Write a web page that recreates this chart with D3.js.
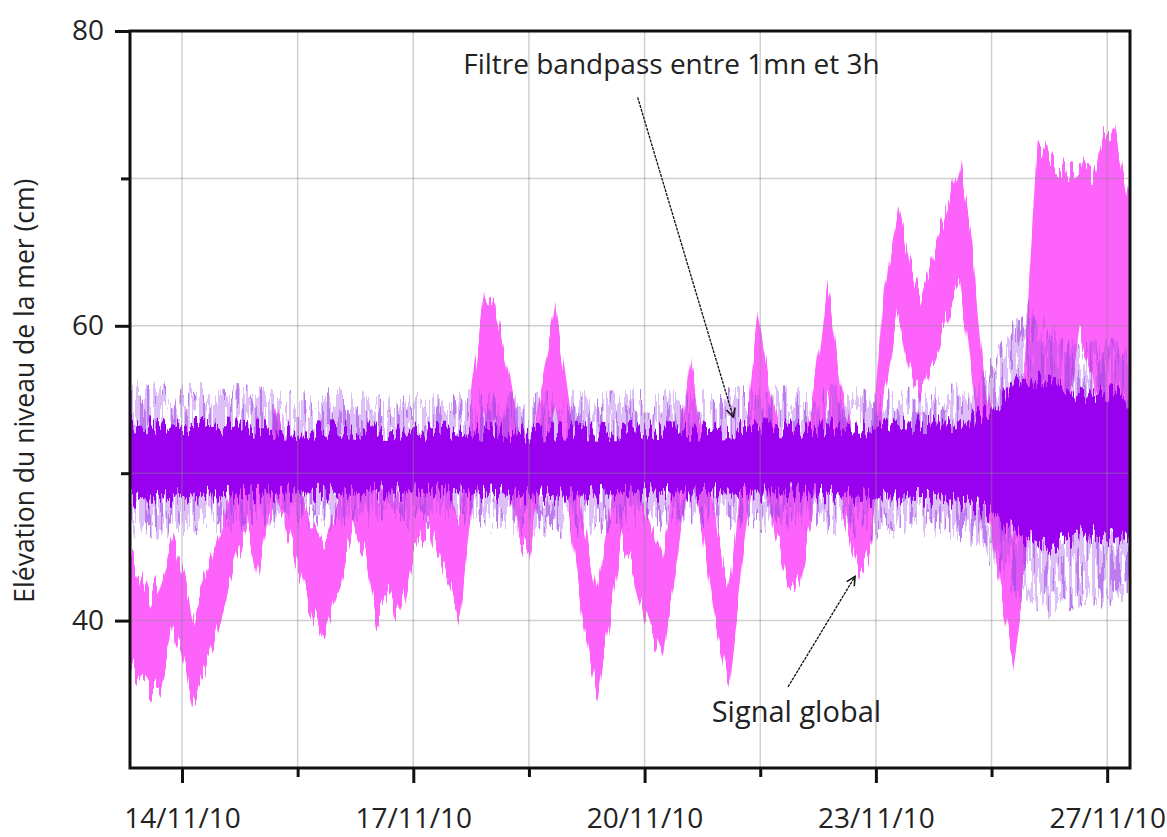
<!DOCTYPE html>
<html>
<head>
<meta charset="utf-8" />
<script src="https://cdn.jsdelivr.net/npm/d3@7/dist/d3.min.js"></script>
<style>
  body { margin: 0; background: #fff; }
  svg { display: block; font-family: "Open Sans", sans-serif; }
  .grid line { stroke: #8a8a8a; stroke-opacity: 0.4; stroke-width: 1.5px; }
  .axis path { display: none; }
  .axis line { stroke: #111; stroke-width: 3px; }
  .axis text { font-size: 28px; fill: #222; font-family: "Open Sans", sans-serif; }
  .note { font-size: 28px; fill: #222; }
</style>
</head>
<body>
<script>
"use strict";

// day of November 2010 (decimal)
var pinkDay = [13.33, 13.45, 13.58, 13.72, 13.87, 14.0, 14.14, 14.3, 14.5, 14.7, 14.85, 15.0, 15.1, 15.22, 15.4, 15.62, 15.85, 16.05, 16.22, 16.38, 16.52, 16.68, 16.82, 17.0, 17.2, 17.42, 17.6, 17.76, 17.93, 18.06, 18.22, 18.38, 18.5, 18.66, 18.84, 19.0, 19.2, 19.38, 19.55, 19.7, 19.85, 20.05, 20.23, 20.42, 20.6, 20.8, 20.95, 21.1, 21.3, 21.47, 21.65, 21.85, 22.0, 22.17, 22.37, 22.55, 22.8, 22.95, 23.1, 23.29, 23.45, 23.57, 23.75, 23.95, 24.09, 24.25, 24.4, 24.55, 24.78, 24.95, 25.1, 25.3, 25.5, 25.65, 25.8, 25.95, 26.1, 26.3];
var pinkLow = [37.0, 36.0, 35.2, 35.5, 39.5, 37.5, 34.3, 36.5, 40.5, 44.0, 46.5, 42.8, 46.5, 48.5, 45.5, 41.5, 38.5, 42.5, 46.5, 44.5, 40.0, 42.0, 40.0, 44.5, 46.5, 43.0, 40.3, 47.5, 54.0, 53.0, 49.5, 45.5, 44.3, 49.5, 54.0, 48.0, 40.0, 35.1, 40.0, 45.5, 43.5, 39.5, 37.2, 44.0, 51.0, 44.0, 39.0, 35.5, 45.0, 53.0, 47.0, 43.0, 42.3, 47.0, 55.0, 48.0, 43.0, 45.0, 55.0, 61.0, 57.0, 55.5, 58.0, 61.0, 63.0, 56.0, 49.5, 44.0, 37.3, 44.0, 50.0, 52.0, 54.0, 59.5, 57.0, 52.0, 50.0, 48.0];
var pinkHigh = [44.5, 43.0, 41.5, 43.0, 45.5, 43.5, 40.0, 43.0, 46.5, 50.0, 52.0, 50.0, 52.0, 54.0, 51.0, 47.5, 45.0, 48.5, 52.0, 50.5, 48.5, 49.5, 48.0, 51.0, 52.0, 49.5, 47.0, 55.5, 62.4, 61.5, 57.0, 52.0, 50.0, 56.0, 61.1, 55.0, 47.0, 42.0, 47.5, 51.5, 50.0, 47.0, 44.0, 51.0, 57.9, 51.0, 46.0, 42.0, 52.0, 60.6, 55.0, 50.0, 49.0, 54.5, 62.9, 56.0, 49.5, 51.5, 62.0, 68.1, 64.0, 62.0, 65.0, 68.5, 71.3, 65.5, 57.0, 52.0, 46.0, 60.0, 72.5, 71.0, 70.5, 71.0, 70.0, 73.0, 73.5, 68.0];

var bandDay = [13.33, 13.6, 14.0, 14.5, 15.0, 15.5, 16.0, 16.5, 17.0, 17.5, 18.0, 18.5, 19.0, 19.5, 20.0, 20.5, 21.0, 21.5, 22.0, 22.5, 23.0, 23.5, 24.0, 24.3, 24.55, 24.8, 25.0, 25.25, 25.5, 25.75, 26.0, 26.3];
var bandOuterLow = [46.5, 46.3, 46.6, 46.8, 47.0, 47.1, 46.8, 47.2, 47.0, 47.3, 46.8, 46.6, 46.4, 46.8, 47.0, 46.8, 47.1, 46.8, 47.0, 46.6, 46.3, 46.6, 46.3, 45.8, 44.0, 42.5, 41.5, 41.0, 41.5, 42.0, 41.5, 42.5];
var bandOuterHigh = [55.7, 55.5, 55.2, 55.4, 55.0, 54.7, 55.0, 54.8, 54.6, 54.9, 54.7, 54.6, 54.8, 54.7, 55.0, 54.7, 54.9, 55.2, 55.0, 55.2, 54.8, 55.0, 55.2, 55.8, 57.5, 60.0, 61.0, 59.5, 59.0, 58.0, 58.5, 57.5];
var bandCoreLow = [48.3, 48.2, 48.4, 48.5, 48.6, 48.7, 48.6, 48.8, 48.7, 48.8, 48.6, 48.5, 48.4, 48.6, 48.7, 48.6, 48.7, 48.6, 48.7, 48.5, 48.3, 48.4, 48.2, 47.8, 47.0, 46.0, 45.5, 45.0, 45.5, 46.0, 45.5, 46.0];
var bandCoreHigh = [53.4, 53.3, 53.2, 53.2, 53.0, 52.8, 53.0, 52.9, 52.8, 52.9, 52.8, 52.7, 52.9, 52.8, 53.0, 52.8, 52.9, 53.1, 53.0, 53.2, 53.0, 53.3, 53.4, 53.8, 54.6, 56.0, 56.5, 56.0, 55.5, 55.0, 55.5, 55.0];

var tickDays = [14, 15.5, 17, 18.5, 20, 21.5, 23, 24.5, 26];
var tickLabels = ["14/11/10", "", "17/11/10", "", "20/11/10", "", "23/11/10", "", "27/11/10"];
var yTicks = [40, 50, 60, 70, 80];
var yTickLabels = ["40", "", "60", "", "80"];
var yGrid = [40, 50, 60, 70];

function dayToDate(d) {
  return new Date(Date.UTC(2010, 10, 1) + (d - 1) * 864e5);
}

var width = 1167, height = 837;
var margin = { top: 31, right: 37, bottom: 69, left: 130 };

var x = d3.scaleUtc()
  .domain([dayToDate(13.3256), dayToDate(26.296)])
  .range([margin.left, width - margin.right]);
var y = d3.scaleLinear()
  .domain([30, 80])
  .range([height - margin.bottom, margin.top]);

var svg = d3.select("body").append("svg")
  .attr("width", width)
  .attr("height", height);

var defs = svg.append("defs");
defs.append("clipPath").attr("id", "plot")
  .append("rect")
  .attr("x", x.range()[0]).attr("y", y.range()[1])
  .attr("width", x.range()[1] - x.range()[0])
  .attr("height", y.range()[0] - y.range()[1]);

// ragged edge texture for the dense signals (look only, values stay as read)
function rough(id, seed, scale, mask) {
  var f = defs.append("filter").attr("id", id)
    .attr("x", "-1%").attr("y", "-40%").attr("width", "102%").attr("height", "180%")
    .attr("color-interpolation-filters", "sRGB");
  f.append("feTurbulence").attr("type", "fractalNoise")
    .attr("baseFrequency", "0.3 0.004").attr("numOctaves", 2)
    .attr("seed", seed).attr("result", "noise");
  f.append("feColorMatrix").attr("in", "noise").attr("type", "matrix")
    .attr("values", "0 0 0 0 0.5  0 3 0 0 -1  0 0 0 0 0  0 0 0 0 1")
    .attr("result", "shift");
  f.append("feDisplacementMap").attr("in", "SourceGraphic").attr("in2", "shift")
    .attr("scale", scale).attr("xChannelSelector", "R").attr("yChannelSelector", "G")
    .attr("result", "moved");
  if (mask) {
    f.append("feTurbulence").attr("type", "fractalNoise")
      .attr("baseFrequency", "0.3 0.02").attr("numOctaves", 2)
      .attr("seed", seed + 20).attr("result", "n2");
    f.append("feComponentTransfer").attr("in", "n2").attr("result", "m")
      .append("feFuncA").attr("type", "discrete").attr("tableValues", "0 0 0.5 1 1");
    f.append("feComposite").attr("in", "moved").attr("in2", "m").attr("operator", "in");
  }
}
rough("roughPink", 3, 22, false);
rough("roughOuter", 7, 26, true);
rough("roughCore", 11, 20, false);

var pink = pinkDay.map(function(d, i) {
  return { t: dayToDate(d), lo: pinkLow[i], hi: pinkHigh[i] };
});
var band = bandDay.map(function(d, i) {
  return { t: dayToDate(d), olo: bandOuterLow[i], ohi: bandOuterHigh[i], clo: bandCoreLow[i], chi: bandCoreHigh[i] };
});

var plot = svg.append("g").attr("clip-path", "url(#plot)");

plot.append("path")
  .datum(pink)
  .attr("fill", "#fd62fb")
  .attr("filter", "url(#roughPink)")
  .attr("d", d3.area()
    .x(function(d) { return x(d.t); })
    .y0(function(d) { return y(d.lo); })
    .y1(function(d) { return y(d.hi); }));

plot.append("path")
  .datum(band)
  .attr("fill", "#9f45e6")
  .attr("fill-opacity", 0.7)
  .attr("filter", "url(#roughOuter)")
  .attr("d", d3.area()
    .x(function(d) { return x(d.t); })
    .y0(function(d) { return y(d.olo); })
    .y1(function(d) { return y(d.ohi); }));

plot.append("path")
  .datum(band)
  .attr("fill", "#9a00f0")
  .attr("filter", "url(#roughCore)")
  .attr("d", d3.area()
    .x(function(d) { return x(d.t); })
    .y0(function(d) { return y(d.clo); })
    .y1(function(d) { return y(d.chi); }));

// grid
var grid = svg.append("g").attr("class", "grid");
grid.selectAll("line.v").data(tickDays).enter().append("line")
  .attr("class", "v")
  .attr("x1", function(d) { return x(dayToDate(d)); })
  .attr("x2", function(d) { return x(dayToDate(d)); })
  .attr("y1", y.range()[0]).attr("y2", y.range()[1]);
grid.selectAll("line.h").data(yGrid).enter().append("line")
  .attr("class", "h")
  .attr("x1", x.range()[0]).attr("x2", x.range()[1])
  .attr("y1", function(d) { return y(d); })
  .attr("y2", function(d) { return y(d); });

// axes
var xAxis = svg.append("g").attr("class", "axis")
  .attr("transform", "translate(0," + y.range()[0] + ")")
  .call(d3.axisBottom(x)
    .tickValues(tickDays.map(dayToDate))
    .tickFormat(function(d, i) { return tickLabels[i]; })
    .tickSize(15).tickPadding(25).tickSizeOuter(0));
xAxis.selectAll(".tick line")
  .attr("y2", function(d, i) { return tickLabels[i] ? 15 : 9; });

var yAxis = svg.append("g").attr("class", "axis")
  .attr("transform", "translate(" + x.range()[0] + ",0)")
  .call(d3.axisLeft(y)
    .tickValues(yTicks)
    .tickFormat(function(d, i) { return yTickLabels[i]; })
    .tickSize(15).tickPadding(11).tickSizeOuter(0));
yAxis.selectAll(".tick line")
  .attr("x2", function(d, i) { return yTickLabels[i] ? -15 : -9; });
xAxis.selectAll("text").attr("fill", "#222");
yAxis.selectAll("text").attr("fill", "#222");

// frame
svg.append("rect")
  .attr("x", x.range()[0]).attr("y", y.range()[1])
  .attr("width", x.range()[1] - x.range()[0])
  .attr("height", y.range()[0] - y.range()[1])
  .attr("fill", "none").attr("stroke", "#111").attr("stroke-width", 3);

svg.append("text")
  .attr("transform", "translate(34," + y(55.6) + ") rotate(-90)")
  .attr("text-anchor", "middle")
  .attr("font-size", 26.5)
  .attr("fill", "#222")
  .text("Elévation du niveau de la mer (cm)");

// annotations
defs.append("marker").attr("id", "head")
  .attr("viewBox", "0 0 10 10").attr("refX", 9).attr("refY", 5)
  .attr("markerWidth", 11).attr("markerHeight", 11)
  .attr("markerUnits", "userSpaceOnUse")
  .attr("orient", "auto")
  .append("path").attr("d", "M1,1 L9,5 L1,9")
  .attr("fill", "none").attr("stroke", "#111").attr("stroke-width", 1.4);

var notes = [
  { text: "Filtre bandpass entre 1mn et 3h", size: 28, at: [23.05, 77.1], anchor: "end", from: [19.91, 75.5], to: [21.15, 53.8] },
  { text: "Signal global", size: 29, at: [20.87, 33.1], anchor: "start", from: [21.86, 35.5], to: [22.73, 43.0] }
];
notes.forEach(function(n) {
  svg.append("text").attr("class", "note")
    .attr("x", x(dayToDate(n.at[0]))).attr("y", y(n.at[1]))
    .attr("text-anchor", n.anchor)
    .style("font-size", n.size + "px")
    .text(n.text);
  svg.append("line")
    .attr("x1", x(dayToDate(n.from[0]))).attr("y1", y(n.from[1]))
    .attr("x2", x(dayToDate(n.to[0]))).attr("y2", y(n.to[1]))
    .attr("stroke", "#111").attr("stroke-width", 1.3)
    .attr("stroke-dasharray", "3,1")
    .attr("marker-end", "url(#head)");
});
</script>
</body>
</html>
